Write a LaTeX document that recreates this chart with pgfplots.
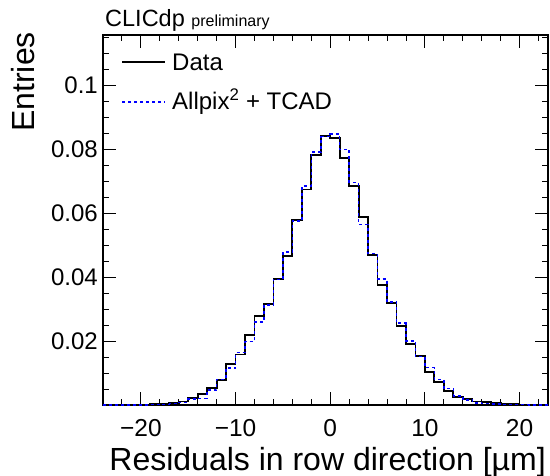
\documentclass[border=0pt]{standalone}
\usepackage{fontspec}
\setmainfont{Liberation Sans}
\usepackage{pgfplots}
\pgfplotsset{compat=1.18}

% residual histograms, 1 um bins, x = lower bin edge (last row = upper edge of last bin)
\pgfplotstableread{
x y
-24 0
-23 0
-22 0.0001
-21 0.0001
-20 0.0001
-19 0.0002
-18 0.0004
-17 0.0007
-16 0.0011
-15 0.0022
-14 0.0034
-13 0.0052
-12 0.0077
-11 0.0127
-10 0.0158
-9 0.0218
-8 0.0278
-7 0.0316
-6 0.0393
-5 0.0466
-4 0.0578
-3 0.0674
-2 0.0781
-1 0.0842
0 0.0836
1 0.0773
2 0.0684
3 0.0589
4 0.0470
5 0.0374
6 0.0318
7 0.0248
8 0.0191
9 0.0154
10 0.0104
11 0.0073
12 0.0044
13 0.0025
14 0.0020
15 0.0011
16 0.0009
17 0.0006
18 0.0003
19 0.0002
20 0.0001
21 0.0001
22 0.0001
23 0.0001
}\datatab

\pgfplotstableread{
x y
-24 0
-23 0
-22 0
-21 0
-20 0
-19 0.0001
-18 0.0002
-17 0.0004
-16 0.0008
-15 0.0018
-14 0.0021
-13 0.0047
-12 0.0080
-11 0.0115
-10 0.0164
-9 0.0198
-8 0.0259
-7 0.0313
-6 0.0393
-5 0.0479
-4 0.0575
-3 0.0685
-2 0.0791
-1 0.0839
0 0.0848
1 0.0799
2 0.0696
3 0.0565
4 0.0474
5 0.0394
6 0.0322
7 0.0256
8 0.0200
9 0.0151
10 0.0117
11 0.0080
12 0.0052
13 0.0028
14 0.0016
15 0.0007
16 0.0004
17 0.0003
18 0.0002
19 0.0001
20 0.0001
21 0
22 0
23 0
}\simtab

\begin{document}
\begin{tikzpicture}
\begin{axis}[
    scale only axis,
    width=445bp, height=370bp,
    xmin=-24, xmax=23,
    ymin=0, ymax=0.1157,
    xtick={-20,-10,0,10,20},
    xticklabels={−20,−10,0,10,20},
    minor xtick={-24,-22,...,22},
    ytick={0.02,0.04,0.06,0.08,0.1},
    yticklabels={0.02,0.04,0.06,0.08,0.1},
    minor ytick={0.005,0.010,...,0.1155},
    tick align=inside,
    major tick length=13bp,
    minor tick length=6bp,
    every tick/.style={black, line width=0.9bp},
    axis line style={line width=1.2bp},
    xticklabel style={font=\fontsize{24.5bp}{28bp}\selectfont, anchor=base, yshift=-31bp},
    yticklabel style={font=\fontsize{24bp}{28bp}\selectfont, anchor=east, inner sep=0pt, xshift=-5bp},
    xlabel={Residuals in row direction [µm]},
    xlabel style={font=\fontsize{32bp}{36bp}\selectfont, at={(rel axis cs:1,0)}, anchor=base east, inner sep=0pt, xshift=-2bp, yshift=-65bp},
    clip=false,
]
\addplot[black, line width=1.8bp, const plot mark left] table {\datatab};
\addplot[blue, line width=1.5bp, dash pattern=on 3bp off 3bp, const plot mark left] table {\simtab};

% legend (ROOT style, no frame)
\draw[black, line width=1.8bp] (rel axis cs:0.043,0.927) -- (rel axis cs:0.139,0.927);
\node[anchor=base west, inner sep=0pt, font=\fontsize{24bp}{28bp}\selectfont]
    at ([yshift=-8bp]rel axis cs:0.155,0.927) {Data};
\draw[blue, line width=1.5bp, dash pattern=on 3bp off 3bp] (rel axis cs:0.043,0.819) -- (rel axis cs:0.139,0.819);
\node[anchor=base west, inner sep=0pt, font=\fontsize{24bp}{28bp}\selectfont]
    at ([yshift=-8bp]rel axis cs:0.155,0.819) {Allpix\textsuperscript{2} + TCAD};

\node[anchor=base west, inner sep=0pt] at (rel axis cs:0,1) [xshift=2bp, yshift=8bp]
    {\fontsize{23.5bp}{26bp}\selectfont CLICdp {\fontsize{16bp}{18bp}\selectfont preliminary}};
\node[rotate=90, anchor=base east, inner sep=0pt, font=\fontsize{32bp}{36bp}\selectfont]
    at ([xshift=-68bp, yshift=3bp]rel axis cs:0,1) {Entries};
\end{axis}
\pgfresetboundingbox
\path[use as bounding box] (-103bp,-71bp) rectangle (447bp,405bp);
\end{tikzpicture}
\end{document}
